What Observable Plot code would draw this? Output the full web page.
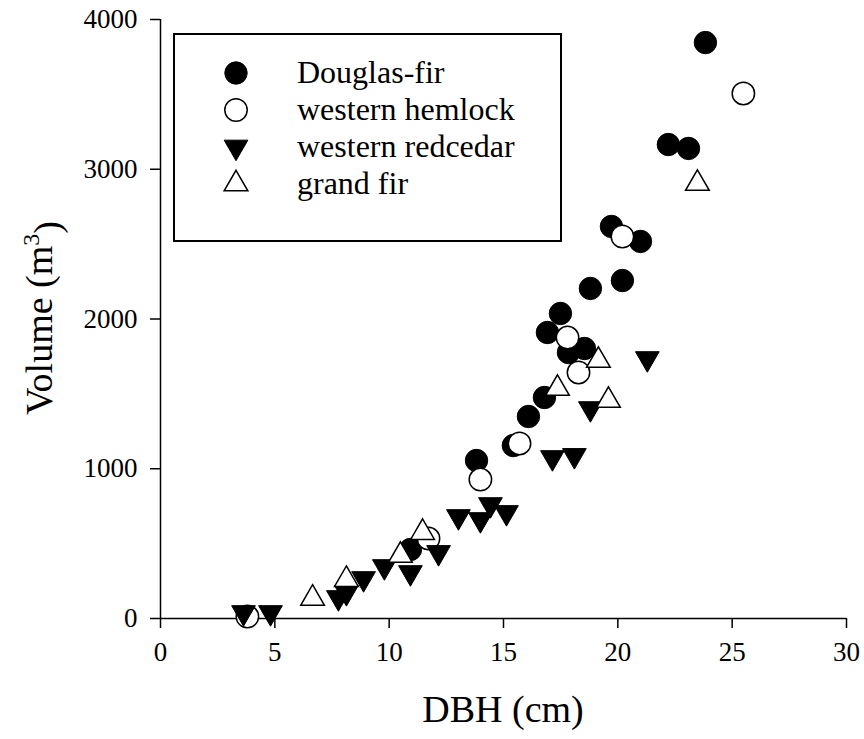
<!DOCTYPE html>
<html>
<head>
<meta charset="utf-8">
<script src="https://cdn.jsdelivr.net/npm/d3@7"></script>
<script src="https://cdn.jsdelivr.net/npm/@observablehq/plot@0.6"></script>
<style>
  html, body { margin: 0; padding: 0; background: #fff; }
  #chart { width: 864px; height: 739px; }
</style>
</head>
<body>
<div id="chart"></div>
<script>
// ---- data ----
const seriesNames = ["Douglas-fir", "western hemlock", "western redcedar", "grand fir"];

const douglasFirDBH = [10.93, 13.82, 15.43, 16.09, 16.79, 16.92, 17.49, 17.84, 18.54, 18.80, 19.72, 20.20, 20.99, 22.21, 23.09, 23.83];
const douglasFirVol = [461, 1055, 1155, 1349, 1476, 1910, 2037, 1776, 1803, 2204, 2618, 2257, 2518, 3165, 3139, 3846];

const hemlockDBH = [3.80, 11.72, 13.99, 15.70, 17.80, 18.28, 20.20, 25.49];
const hemlockVol = [13, 534, 928, 1169, 1876, 1643, 2551, 3506];

const redcedarDBH = [3.63, 4.81, 7.78, 8.13, 8.88, 9.79, 10.93, 12.16, 13.03, 13.99, 14.43, 15.13, 17.14, 18.10, 18.80, 21.29];
const redcedarVol = [40, 40, 140, 174, 267, 347, 307, 441, 681, 661, 761, 708, 1075, 1089, 1402, 1736];

const grandFirDBH = [6.65, 8.13, 10.49, 11.46, 17.36, 19.15, 19.59, 23.48];
const grandFirVol = [134, 260, 421, 574, 1536, 1723, 1456, 2905];

const xTicks = [0, 5, 10, 15, 20, 25, 30];
const yTicks = [0, 1000, 2000, 3000, 4000];
const xTitle = "DBH (cm)";
const yTitle = "Volume (m";
const yTitleSup = "3";

// ---- build tables ----
const zip = (xs, ys) => xs.map((x, i) => ({x, y: ys[i]}));
const df = zip(douglasFirDBH, douglasFirVol);
const wh = zip(hemlockDBH, hemlockVol);
const rc = zip(redcedarDBH, redcedarVol);
const gf = zip(grandFirDBH, grandFirVol);

const FONT = "'Liberation Serif', 'Times New Roman', serif";
const circleR = 11.2;
const triR = 8.8;

const svg = Plot.plot({
  width: 864,
  height: 739,
  marginLeft: 160,
  marginRight: 18,
  marginTop: 19,
  marginBottom: 121,
  style: {fontFamily: FONT, fontSize: "27px", color: "black", background: "white", overflow: "visible"},
  x: {domain: [0, 30]},
  y: {domain: [0, 4000]},
  marks: [
    Plot.axisX({ticks: xTicks, tickSize: 10, tickPadding: 13, strokeWidth: 1.5, label: null, tickFormat: d => String(d), fontSize: 27}),
    Plot.axisY({ticks: yTicks, tickSize: 10, tickPadding: 13, strokeWidth: 1.5, label: null, tickFormat: d => String(d), fontSize: 27}),
    Plot.ruleX([0], {stroke: "black", strokeWidth: 1.5}),
    Plot.ruleY([0], {stroke: "black", strokeWidth: 1.5}),
    Plot.dot(df, {x: "x", y: "y", r: circleR, symbol: "circle", fill: "black", stroke: "black", strokeWidth: 1}),
    Plot.dot(wh, {x: "x", y: "y", r: circleR, symbol: "circle", fill: "white", stroke: "black", strokeWidth: 1.5}),
    Plot.dot(rc, {x: "x", y: "y", r: triR, symbol: "triangle", rotate: 180, fill: "black", stroke: "black", strokeWidth: 1}),
    Plot.dot(gf, {x: "x", y: "y", r: triR, symbol: "triangle", fill: "white", stroke: "black", strokeWidth: 1.5})
  ]
});

const s = d3.select(svg);

// axis titles
s.append("text")
  .attr("x", 503).attr("y", 722)
  .attr("text-anchor", "middle")
  .style("font-family", FONT).style("font-size", "38px").attr("fill", "black")
  .text(xTitle);

const yt = s.append("text")
  .attr("transform", "translate(52,318) rotate(-90)")
  .attr("text-anchor", "middle")
  .style("font-family", FONT).style("font-size", "38px").attr("fill", "black");
yt.append("tspan").text(yTitle);
yt.append("tspan").attr("dy", "-0.55em").style("font-size", "24px").text(yTitleSup);
yt.append("tspan").attr("dy", "0.55em").text(")");

// legend
const lg = s.append("g");
lg.append("rect").attr("x", 174).attr("y", 34).attr("width", 387).attr("height", 207)
  .attr("fill", "white").attr("stroke", "black").attr("stroke-width", 2);
const rows = [73, 110, 147, 184];
const symX = 236;
const triSize = Math.PI * triR * triR;
// Douglas-fir
lg.append("circle").attr("cx", symX).attr("cy", rows[0]).attr("r", circleR).attr("fill", "black").attr("stroke", "black");
// hemlock
lg.append("circle").attr("cx", symX).attr("cy", rows[1]).attr("r", circleR).attr("fill", "white").attr("stroke", "black").attr("stroke-width", 1.5);
// redcedar
lg.append("path").attr("d", d3.symbol(d3.symbolTriangle, triSize)())
  .attr("transform", `translate(${symX},${rows[2]}) rotate(180)`).attr("fill", "black").attr("stroke", "black");
// grand fir
lg.append("path").attr("d", d3.symbol(d3.symbolTriangle, triSize)())
  .attr("transform", `translate(${symX},${rows[3]})`).attr("fill", "white").attr("stroke", "black").attr("stroke-width", 1.5);
seriesNames.forEach((n, i) => {
  lg.append("text").attr("x", 297).attr("y", rows[i] + 10)
    .attr("text-anchor", "start")
    .style("font-family", FONT).style("font-size", "32px").attr("fill", "black").text(n);
});

document.getElementById("chart").appendChild(svg);
</script>
</body>
</html>
